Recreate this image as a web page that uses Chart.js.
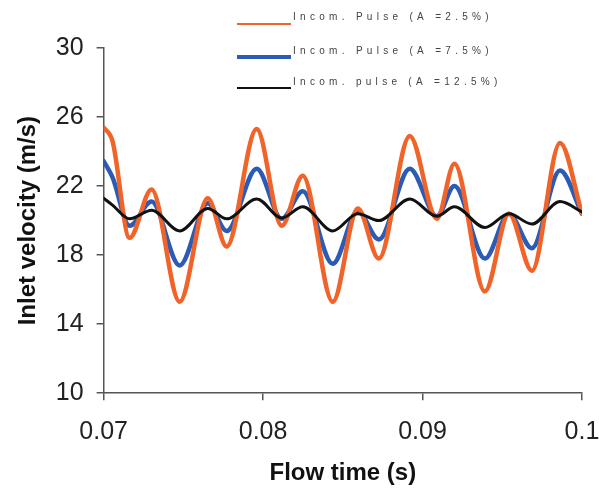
<!DOCTYPE html>
<html>
<head>
<meta charset="utf-8">
<script src="https://cdn.jsdelivr.net/npm/chart.js@4/dist/chart.umd.min.js"></script>
<style>
  html, body { margin: 0; padding: 0; background: #fff; }
  #wrap { width: 599px; height: 488px; position: relative; }
</style>
</head>
<body>
<div id="wrap"><canvas id="chart" width="599" height="488"></canvas></div>
<script>
// 読み取った値
const times = [0.0700, 0.07056, 0.07163, 0.07301, 0.07477, 0.07653, 0.07772, 0.0796, 0.08117, 0.08249,
               0.08437, 0.08594, 0.08726, 0.0892, 0.0909, 0.0920, 0.09391, 0.09542, 0.09686, 0.09862, 0.1000];
const pulse25 = [25.4, 24.6, 19.0, 21.8, 15.3, 21.3, 18.5, 25.3, 19.7, 22.6,
                 15.3, 20.7, 17.8, 24.9, 20.1, 23.3, 15.9, 20.4, 17.1, 24.5, 20.4];
const pulse75 = [23.45, 22.5, 19.7, 21.1, 17.4, 21.0, 19.4, 23.0, 20.1, 21.7,
                 17.5, 20.55, 18.9, 23.0, 20.25, 22.0, 17.8, 20.4, 18.4, 22.9, 20.4];
const pulse125 = [21.3, 20.9, 20.1, 20.6, 19.4, 20.7, 20.1, 21.25, 20.15, 20.8,
                  19.4, 20.4, 20.0, 21.25, 20.25, 20.8, 19.6, 20.4, 19.8, 21.1, 20.5];
const seriesNames = ["Incom. Pulse (A =2.5%)", "Incom. Pulse (A =7.5%)", "Incom. pulse (A =12.5%)"];
const xTickLabels = ["0.07", "0.08", "0.09", "0.1"];
const yTicks = [10, 14, 18, 22, 26, 30];

const FONT = "'Liberation Sans', Arial, sans-serif";

function toPoints(ys){
    return times.map((t, i)=>({x: t, y: ys[i]}));
}

// 凡例を自前で描く
const legendPlugin = {
    id: "customLegend",
    afterDraw(chart){
        const c = chart.ctx;
        const lineY = [24, 57, 88];  // 線のy位置
        const textY = [17, 51, 82];  // 文字のy位置
        c.save();
        chart.data.datasets.forEach((ds, i)=>{
            c.strokeStyle = ds.borderColor;
            c.lineWidth = ds.legendWidth;
            c.beginPath();
            c.moveTo(237, lineY[i]);
            c.lineTo(291, lineY[i]);
            c.stroke();
            c.fillStyle = "#444";
            c.font = "10px " + FONT;
            c.letterSpacing = "4.3px";
            c.textBaseline = "middle";
            c.fillText(ds.label, 293, textY[i]);
        });
        c.restore();
    }
};

const ctx = document.getElementById("chart");
const myChart = new Chart(ctx, {
    type: "line",
    data: {
        datasets: [
            {
                label: seriesNames[0],
                data: toPoints(pulse25),
                borderColor: "#F0642A",
                borderWidth: 4.5,
                legendWidth: 2,
                order: 1
            },
            {
                label: seriesNames[1],
                data: toPoints(pulse75),
                borderColor: "#2B5BB5",
                borderWidth: 4.5,
                legendWidth: 4,
                order: 2
            },
            {
                label: seriesNames[2],
                data: toPoints(pulse125),
                borderColor: "#111111",
                borderWidth: 3,
                legendWidth: 2,
                order: 0
            }
        ]
    },
    options: {
        responsive: false,
        animation: false,
        layout: { padding: { top: 48, right: 0, left: 0, bottom: 0 } },
        elements: {
            point: { radius: 0 },
            line: { cubicInterpolationMode: "monotone", borderCapStyle: "round", borderJoinStyle: "round" }
        },
        plugins: {
            legend: { display: false },
            tooltip: { enabled: false }
        },
        scales: {
            x: {
                type: "linear",
                min: 0.07,
                max: 0.1,
                afterBuildTicks: (axis)=>{ axis.ticks = xTickLabels.map(v=>({value: parseFloat(v)})); },
                // 右端の余白は最後のラベルの半分だけにする
                afterFit: (axis)=>{ axis.paddingRight = 17; axis.paddingLeft = 0; },
                ticks: {
                    callback: (v, i)=>xTickLabels[i],
                    color: "#222",
                    font: { family: FONT, size: 25 },
                    padding: 17,
                    maxRotation: 0
                },
                grid: { drawOnChartArea: false, drawTicks: true, tickLength: 7, color: "#555", lineWidth: 1.5 },
                border: { display: true, color: "#555", width: 1.5 },
                title: {
                    display: true,
                    text: "Flow time (s)",
                    color: "#111",
                    font: { family: FONT, size: 24, weight: "bold" },
                    padding: { top: -5, bottom: 0 }
                }
            },
            y: {
                min: 10,
                max: 30,
                afterBuildTicks: (axis)=>{ axis.ticks = yTicks.map(v=>({value: v})); },
                ticks: {
                    color: "#222",
                    font: { family: FONT, size: 25 },
                    padding: 13
                },
                grid: { drawOnChartArea: false, drawTicks: true, tickLength: 7, color: "#555", lineWidth: 1.5 },
                border: { display: true, color: "#555", width: 1.5 },
                title: {
                    display: true,
                    text: "Inlet velocity (m/s)",
                    color: "#111",
                    font: { family: FONT, size: 24, weight: "bold" },
                    padding: { top: 14, bottom: 0 }
                }
            }
        }
    },
    plugins: [legendPlugin]
});
</script>
</body>
</html>
